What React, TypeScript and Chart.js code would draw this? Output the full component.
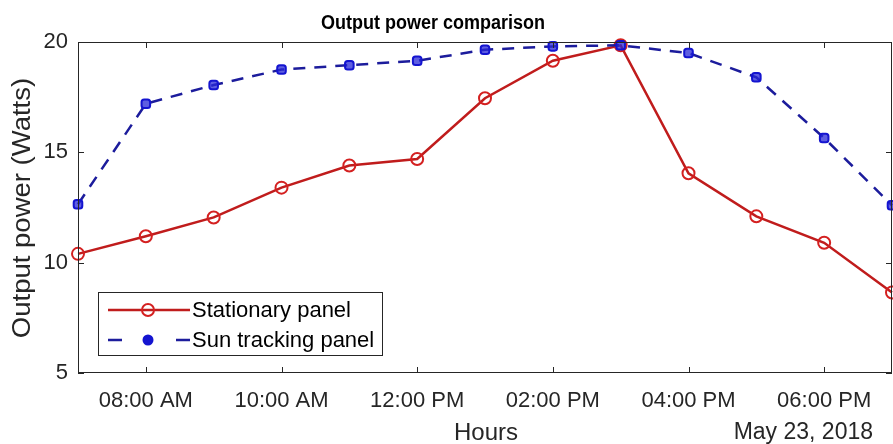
import React, { useEffect, useRef } from "react";
import { Chart, registerables } from "chart.js";

Chart.register(...registerables);

const hours = [7, 8, 9, 10, 11, 12, 13, 14, 15, 16, 17, 18, 19];
const stationary = [10.4, 11.2, 12.05, 13.4, 14.4, 14.7, 17.45, 19.15, 19.85, 14.05, 12.1, 10.9, 8.65];
const sunTracking = [12.65, 17.2, 18.05, 18.75, 18.95, 19.15, 19.65, 19.8, 19.85, 19.5, 18.4, 15.65, 12.6];
const tickHours = [8, 10, 12, 14, 16, 18];
const tickLabels = ["08:00 AM", "10:00 AM", "12:00 PM", "02:00 PM", "04:00 PM", "06:00 PM"];
const yTicks = [5, 10, 15, 20];
const seriesNames = ["Stationary panel", "Sun tracking panel"];
const titleText = "Output power comparison";
const xTitle = "Hours";
const yTitle = "Output power (Watts)";
const dateText = "May 23, 2018";

const FONT = "'Liberation Sans', Arial, Helvetica, sans-serif";
const AXIS = "#262626";
const RED_LINE = "#c01c1c";
const RED_MARK = "#d42020";
const BLUE_LINE = "#1c1c9c";
const BLUE_MARK = "#1414d0";

const decor = {
  id: "matlabDecor",
  afterDatasetsDraw(chart: any) {
    const { ctx, chartArea } = chart;
    const { left, right, top, bottom } = chartArea;
    const xs = chart.scales.x;
    const ys = chart.scales.y;
    ctx.save();
    ctx.strokeStyle = AXIS;
    ctx.lineWidth = 1;
    ctx.strokeRect(left + 0.5, top + 0.5, right - left - 1, bottom - top - 1);
    ctx.beginPath();
    tickHours.forEach((h) => {
      const px = Math.round(xs.getPixelForValue(h)) + 0.5;
      ctx.moveTo(px, bottom);
      ctx.lineTo(px, bottom - 6);
      ctx.moveTo(px, top);
      ctx.lineTo(px, top + 6);
    });
    yTicks.forEach((v) => {
      const py = Math.round(ys.getPixelForValue(v)) + 0.5;
      ctx.moveTo(left, py);
      ctx.lineTo(left + 6, py);
      ctx.moveTo(right, py);
      ctx.lineTo(right - 6, py);
    });
    ctx.stroke();

    // legend
    const lx = 98, ly = 292, lw = 284, lh = 63;
    ctx.fillStyle = "#ffffff";
    ctx.fillRect(lx, ly, lw, lh);
    ctx.strokeStyle = AXIS;
    ctx.lineWidth = 1;
    ctx.strokeRect(lx + 0.5, ly + 0.5, lw, lh);
    const rows = [310, 340];
    ctx.strokeStyle = RED_LINE;
    ctx.lineWidth = 2.5;
    ctx.setLineDash([]);
    ctx.beginPath();
    ctx.moveTo(108, rows[0]);
    ctx.lineTo(190, rows[0]);
    ctx.stroke();
    ctx.strokeStyle = RED_MARK;
    ctx.lineWidth = 2;
    ctx.beginPath();
    ctx.arc(148, rows[0], 6, 0, Math.PI * 2);
    ctx.stroke();
    ctx.strokeStyle = BLUE_LINE;
    ctx.lineWidth = 2.5;
    ctx.setLineDash([14, 54]);
    ctx.beginPath();
    ctx.moveTo(108, rows[1]);
    ctx.lineTo(190, rows[1]);
    ctx.stroke();
    ctx.setLineDash([]);
    ctx.fillStyle = BLUE_MARK;
    ctx.beginPath();
    ctx.arc(148, rows[1], 5.5, 0, Math.PI * 2);
    ctx.fill();
    ctx.fillStyle = "#000000";
    ctx.font = `22px ${FONT}`;
    ctx.textAlign = "left";
    ctx.textBaseline = "middle";
    ctx.fillText(seriesNames[0], 192, rows[0] + 1);
    ctx.fillText(seriesNames[1], 192, rows[1] + 1);
    ctx.restore();
  },
  afterDraw(chart: any) {
    const { ctx } = chart;
    ctx.save();
    ctx.fillStyle = "#000000";
    ctx.font = `bold 20px ${FONT}`;
    ctx.textAlign = "center";
    ctx.textBaseline = "middle";
    ctx.save();
    ctx.translate(433, 23);
    ctx.scale(0.9, 1);
    ctx.fillText(titleText, 0, 0);
    ctx.restore();
    ctx.fillStyle = AXIS;
    ctx.font = `24px ${FONT}`;
    ctx.fillText(xTitle, 486, 433);
    ctx.font = `23px ${FONT}`;
    ctx.textAlign = "right";
    ctx.fillText(dateText, 873, 433);
    ctx.translate(23, 208);
    ctx.rotate(-Math.PI / 2);
    ctx.scale(1.1, 1);
    ctx.textAlign = "center";
    ctx.font = `25px ${FONT}`;
    ctx.fillText(yTitle, 0, 0);
    ctx.restore();
  },
};

export default function App() {
  const ref = useRef<HTMLCanvasElement | null>(null);
  useEffect(() => {
    if (!ref.current) return;
    const chart = new Chart(ref.current, {
      type: "line",
      data: {
        datasets: [
          {
            label: seriesNames[0],
            data: hours.map((h, i) => ({ x: h, y: stationary[i] })),
            borderColor: RED_LINE,
            borderWidth: 2.5,
            pointStyle: "circle",
            pointRadius: 6,
            pointBorderWidth: 2,
            pointBorderColor: RED_MARK,
            pointBackgroundColor: "rgba(255,255,255,0)",
            tension: 0,
            clip: false,
            order: 2,
          },
          {
            label: seriesNames[1],
            data: hours.map((h, i) => ({ x: h, y: sunTracking[i] })),
            borderColor: BLUE_LINE,
            borderWidth: 2.5,
            borderDash: [12, 9],
            pointStyle: "rectRounded",
            pointRadius: 5,
            pointBorderWidth: 2,
            pointBorderColor: BLUE_MARK,
            pointBackgroundColor: "rgba(40,40,215,0.75)",
            tension: 0,
            clip: false,
            order: 1,
          },
        ],
      },
      options: {
        animation: false,
        responsive: false,
        maintainAspectRatio: false,
        layout: { autoPadding: false, padding: { top: 42, right: 1, left: 0, bottom: 0 } },
        plugins: {
          legend: { display: false },
          title: { display: false },
          tooltip: { enabled: false },
        },
        scales: {
          x: {
            type: "linear",
            min: 7,
            max: 19,
            grid: { display: false },
            border: { display: false },
            afterBuildTicks: (s: any) => {
              s.ticks = tickHours.map((v) => ({ value: v }));
            },
            afterFit: (s: any) => {
              s.height = 71;
              s.paddingLeft = 0;
              s.paddingRight = 0;
            },
            ticks: {
              autoSkip: false,
              maxRotation: 0,
              padding: 7,
              color: AXIS,
              font: { family: FONT, size: 22 },
              callback: (v: any) => {
                const i = tickHours.indexOf(Number(v));
                return i >= 0 ? tickLabels[i] : "";
              },
            },
          },
          y: {
            type: "linear",
            min: 5,
            max: 20,
            grid: { display: false },
            border: { display: false },
            afterBuildTicks: (s: any) => {
              s.ticks = yTicks.map((v) => ({ value: v }));
            },
            afterFit: (s: any) => {
              s.width = 78;
              s.paddingTop = 0;
              s.paddingBottom = 0;
            },
            ticks: {
              padding: 2,
              color: AXIS,
              font: { family: FONT, size: 22 },
            },
          },
        },
      },
      plugins: [decor],
    });
    return () => chart.destroy();
  }, []);
  return (
    <div style={{ position: "absolute", left: 0, top: 0, width: 893, height: 444, background: "#ffffff" }}>
      <canvas ref={ref} width={893} height={444} style={{ display: "block" }} />
    </div>
  );
}
